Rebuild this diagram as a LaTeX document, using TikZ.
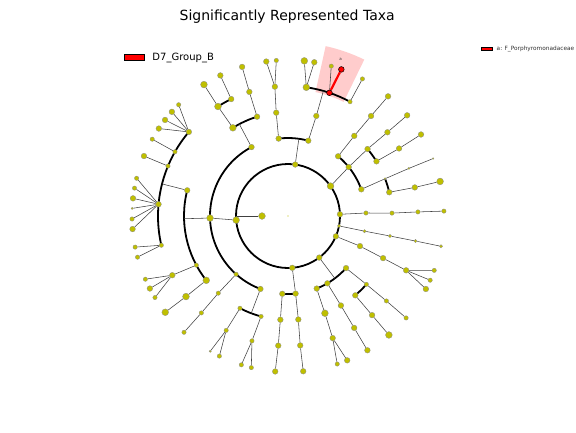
\documentclass[tikz,border=0pt]{standalone}
\usepackage{fontspec}
\setmainfont{DejaVu Sans}
\pgfdeclarelayer{bg}
\pgfsetlayers{bg,main}
\definecolor{ylw}{RGB}{191,191,0}

\begin{document}
\begin{tikzpicture}[x=1pt,y=1pt,
  tx/.style={circle, fill=ylw, draw=black!45, line width=0.3pt, inner sep=0pt, minimum size=5.7pt},
  txb/.style={tx, minimum size=6.8pt},
  txs/.style={tx, minimum size=4.4pt},
  txv/.style={tx, minimum size=3.3pt},
  txt/.style={tx, minimum size=2.2pt},
  txd/.style={circle, fill=ylw, inner sep=0pt, minimum size=1.4pt},
  txr/.style={circle, fill=red, draw=black, line width=0.5pt, inner sep=0pt, minimum size=5.7pt},
  lk/.style={black!75, line width=0.55pt},
  br/.style={black, line width=1.8pt}]
\useasboundingbox (-288,-216) rectangle (288,216);

\node[anchor=base, font=\fontsize{14}{16}\selectfont] (title) at (-0.8,196) {Significantly Represented Taxa};
\node[draw=black, fill=red, line width=0.6pt, minimum width=20pt, minimum height=6.5pt, inner sep=0pt] (leg) at (-153.8,158.7) {};
\node[anchor=base west, inner sep=0pt, font=\fontsize{10}{12}\selectfont] (legtxt) at (-135.7,156) {D7\_Group\_B};
\node[draw=black, fill=red, line width=0.4pt, minimum width=11pt, minimum height=2.7pt, inner sep=0pt] (key) at (198.2,167.4) {};
\node[anchor=west, inner sep=0pt, text=black!80, font=\fontsize{5.8}{7}\selectfont] (keytxt) at (208.5,167.3) {a: F\_Porphyromonadaceae};

\node[txd] (r) at (0,0) {};
\node[txb] (k) at (180:26) {};
\coordinate (k1) at (180:52);

\node[tx] (p1) at (82:52) {};
\node[txb] (p2) at (35.1:52) {};
\node[tx] (p3) at (1.9:52) {};
\node[txv] (p4) at (-11:52) {};
\node[tx] (p5) at (-23:52) {};
\node[tx] (p6) at (-53.1:52) {};
\node[tx] (p7) at (-85.3:52) {};
\node[txb] (p8) at (184.5:52) {};

\node[tx] (c8a) at (117.9:78) {};
\node[txb] (c8b) at (181.5:78) {};
\node[txs] (c8c) at (228.3:78) {};
\node[tx] (c8d) at (249.3:78) {};
\coordinate (c8a1) at (117.9:104);
\node[txb] (o8a) at (122:104) {};
\node[tx] (o8b) at (107.3:104) {};
\node[txb] (f8a) at (122.6:130) {};
\node[tx] (f8b) at (115.9:130) {};
\node[tx] (f8c) at (107.3:130) {};
\node[txb] (g8a) at (122.6:156) {};
\node[tx] (g8b) at (115.7:156) {};
\node[tx] (g8c) at (107.1:156) {};
\coordinate (c8b1) at (181.5:104);
\node[tx] (o8c) at (165.7:104) {};
\node[txs] (o8d) at (208.2:104) {};
\node[txb] (o8e) at (218.2:104) {};
\coordinate (o8c1) at (165.7:130);
\node[tx] (f8d) at (139.7:130) {};
\node[txs] (f8e) at (150.4:130) {};
\node[txs] (f8f) at (157.4:130) {};
\node[tx] (f8g) at (174.8:130) {};
\node[txs] (f8h) at (193:130) {};
\node[txs] (g8d1) at (134.5:156) {};
\node[tx] (g8d2) at (138.1:156) {};
\node[tx] (g8d3) at (142:156) {};
\node[tx] (g8d4) at (145.9:156) {};
\node[txs] (g8e) at (150.5:156) {};
\node[tx] (g8f) at (157.4:156) {};
\node[txs] (g8g1) at (166:156) {};
\node[txs] (g8g2) at (169.7:156) {};
\node[tx] (g8g3) at (173.5:156) {};
\node[txt] (g8g4) at (177.2:156) {};
\node[txs] (g8g5) at (181.1:156) {};
\node[tx] (g8g6) at (184.8:156) {};
\node[txs] (g8h1) at (191.5:156) {};
\node[txs] (g8h2) at (195.3:156) {};
\node[tx] (f8i) at (207.1:130) {};
\node[txs] (g8i1) at (203.9:156) {};
\node[tx] (g8i2) at (207.7:156) {};
\node[txs] (g8i3) at (211.5:156) {};
\node[txb] (f8j) at (218.3:130) {};
\node[txb] (g8j) at (218.1:156) {};
\node[txs] (o8f) at (227.9:104) {};
\node[txs] (f8k) at (228.2:130) {};
\node[txs] (g8k) at (228.2:156) {};
\coordinate (c8d1) at (249.3:104);
\node[txs] (o8g) at (242.5:104) {};
\node[txs] (f8l) at (241.6:130) {};
\node[txt] (g8l1) at (240.1:156) {};
\node[txs] (g8l2) at (243.9:156) {};
\node[txs] (o8h) at (255:104) {};
\node[txs] (f8m) at (253.9:130) {};
\node[txs] (g8m1) at (252.6:156) {};
\node[txs] (g8m2) at (256.4:156) {};

\coordinate (p1a) at (82:78);
\node[tx] (c1a) at (96.9:78) {};
\node[tx] (c1b) at (74.9:78) {};
\node[tx] (o1a) at (96.5:104) {};
\node[tx] (f1a) at (95.8:130) {};
\node[tx] (g1a1) at (98:156) {};
\node[txs] (g1a2) at (94.3:156) {};
\node[tx] (o1b) at (74.2:104) {};
\coordinate (o1b1) at (74.2:130);
\node[txb] (f1b) at (81.9:130) {};
\node[txb] (g1b1) at (84:156) {};
\node[tx] (g1b2) at (80.3:156) {};
\node[txr] (f1c) at (71.4:130) {};
\node[txr] (g1c1) at (70:156) {};
\node[txs] (g1c2) at (73.9:156) {};
\node[txs] (f1d) at (61.5:130) {};
\node[txs] (g1d) at (61.5:156) {};
\node[inner sep=0pt, text=black!80, font=\fontsize{4}{4}\selectfont] (lbla) at (71.4:165) {a};

\node[tx] (c2a) at (50:78) {};
\node[tx] (c2b) at (38.9:78) {};
\node[tx] (c2c) at (20:78) {};
\node[tx] (o2a) at (50.4:104) {};
\node[tx] (f2a) at (50.3:130) {};
\node[tx] (g2a) at (50.1:156) {};
\node[tx] (o2b) at (40.1:104) {};
\node[tx] (f2b) at (40.1:130) {};
\node[tx] (g2b) at (40.2:156) {};
\node[tx] (o2c) at (31.7:104) {};
\node[tx] (f2c) at (31.3:130) {};
\node[tx] (g2c) at (31.5:156) {};
\node[txt] (o2d) at (21:104) {};
\node[txt] (f2d) at (21.5:130) {};
\node[txt, minimum size=1.8pt] (g2d) at (21.6:156) {};
\node[tx] (o2e) at (13.2:104) {};
\node[tx] (f2e) at (12.7:130) {};
\node[txb] (g2e) at (12.8:156) {};

\node[txs] (c3) at (2.2:78) {};
\node[txs] (o3) at (1.6:104) {};
\node[txs] (f3) at (1.8:130) {};
\node[txs] (g3) at (1.8:156) {};

\node[txv] (c4) at (-11.2:78) {};
\node[txv] (o4) at (-11.1:104) {};
\node[txv] (f4) at (-11.1:130) {};
\node[txv] (g4) at (-11.2:156) {};

\node[tx] (c5) at (-22.7:78) {};
\node[tx] (o5) at (-23.9:104) {};
\node[tx] (f5) at (-24.7:130) {};
\node[txs] (g5a) at (-20.4:156) {};
\node[txs] (g5b) at (-24.3:156) {};
\node[tx] (g5c) at (-27.9:156) {};

\coordinate (p6a) at (-53.1:78);
\node[tx] (c6a) at (-41.9:78) {};
\node[tx] (c6b) at (-59.7:78) {};
\node[tx] (c6c) at (-68.4:78) {};
\node[txs] (o6a) at (-41.1:104) {};
\node[txs] (f6a) at (-40.8:130) {};
\node[txs] (g6a) at (-40.8:156) {};
\node[tx] (o6b) at (-49.7:104) {};
\node[tx] (f6b) at (-49.7:130) {};
\node[txb] (g6b) at (-49.7:156) {};
\node[tx] (o6c) at (-59.4:104) {};
\node[tx] (f6c) at (-59.4:130) {};
\node[tx] (g6c) at (-59.4:156) {};
\node[txb] (o6d) at (-69.2:104) {};
\node[tx] (f6d) at (-69.9:130) {};
\node[txs] (g6d1) at (-71.6:156) {};
\node[tx] (g6d2) at (-67.7:156) {};

\node[tx] (c7a) at (-84.4:78) {};
\node[tx] (c7b) at (-94.2:78) {};
\node[tx] (o7a) at (-84.3:104) {};
\node[tx] (f7a) at (-84.6:130) {};
\node[tx] (g7a) at (-84.4:156) {};
\node[tx] (o7b) at (-94.2:104) {};
\node[tx] (f7b) at (-94.3:130) {};
\node[tx] (g7b) at (-94.7:156) {};

\begin{pgfonlayer}{bg}
\fill[red!20] (64:127pt) arc[start angle=64, end angle=77.5, radius=127pt] -- (77.5:174pt) arc[start angle=77.5, end angle=64, radius=174pt] -- cycle;

\draw[br] (0,0) circle[radius=52pt];
\draw[br] (117.9:78pt) arc[start angle=117.9, end angle=249.3, radius=78pt];
\draw[br] (107.3:104pt) arc[start angle=107.3, end angle=122, radius=104pt];
\draw[br] (115.9:130pt) arc[start angle=115.9, end angle=122.6, radius=130pt];
\draw[br] (165.7:104pt) arc[start angle=165.7, end angle=218.2, radius=104pt];
\draw[br] (139.7:130pt) arc[start angle=139.7, end angle=193, radius=130pt];
\draw[br] (242.5:104pt) arc[start angle=242.5, end angle=255, radius=104pt];
\draw[br] (74.9:78pt) arc[start angle=74.9, end angle=96.9, radius=78pt];
\draw[br] (61.5:130pt) arc[start angle=61.5, end angle=81.9, radius=130pt];
\draw[br] (20:78pt) arc[start angle=20, end angle=50, radius=78pt];
\draw[br] (31.7:104pt) arc[start angle=31.7, end angle=40.1, radius=104pt];
\draw[br] (13.2:104pt) arc[start angle=13.2, end angle=21, radius=104pt];
\draw[br] (-68.4:78pt) arc[start angle=-68.4, end angle=-41.9, radius=78pt];
\draw[br] (-49.7:104pt) arc[start angle=-49.7, end angle=-41.1, radius=104pt];
\draw[br] (-94.2:78pt) arc[start angle=-94.2, end angle=-84.4, radius=78pt];

\draw[lk] (k) -- (k1);
\draw[lk] (p8) -- (c8b);
\draw[lk] (c8a) -- (c8a1);
\draw[lk] (o8a) -- (f8a) -- (g8a);
\draw[lk] (f8b) -- (g8b);
\draw[lk] (o8b) -- (f8c) -- (g8c);
\draw[lk] (c8b) -- (c8b1);
\draw[lk] (o8c) -- (o8c1);
\draw (f8d) edge[lk] (g8d1) edge[lk] (g8d2) edge[lk] (g8d3) edge[lk] (g8d4);
\draw[lk] (f8e) -- (g8e);
\draw[lk] (f8f) -- (g8f);
\draw (f8g) edge[lk] (g8g1) edge[lk] (g8g2) edge[lk] (g8g3) edge[lk] (g8g4) edge[lk] (g8g5) edge[lk] (g8g6);
\draw (f8h) edge[lk] (g8h1) edge[lk] (g8h2);
\draw[lk] (o8d) -- (f8i);
\draw (f8i) edge[lk] (g8i1) edge[lk] (g8i2) edge[lk] (g8i3);
\draw[lk] (o8e) -- (f8j) -- (g8j);
\draw[lk] (c8c) -- (o8f) -- (f8k) -- (g8k);
\draw[lk] (c8d) -- (c8d1);
\draw[lk] (o8g) -- (f8l);
\draw (f8l) edge[lk] (g8l1) edge[lk] (g8l2);
\draw[lk] (o8h) -- (f8m);
\draw (f8m) edge[lk] (g8m1) edge[lk] (g8m2);

\draw[lk] (p1) -- (p1a);
\draw[lk] (c1a) -- (o1a) -- (f1a);
\draw (f1a) edge[lk] (g1a1) edge[lk] (g1a2);
\draw[lk] (c1b) -- (o1b) -- (o1b1);
\draw (f1b) edge[lk] (g1b1) edge[lk] (g1b2);
\draw[lk] (f1c) -- (g1c2);
\draw[red, line width=2.2pt] (f1c) -- (g1c1);
\draw[lk] (f1d) -- (g1d);

\draw[lk] (p2) -- (c2b);
\draw[lk] (c2a) -- (o2a) -- (f2a) -- (g2a);
\draw[lk] (c2b) -- (o2b) -- (f2b) -- (g2b);
\draw[lk] (o2c) -- (f2c) -- (g2c);
\draw[lk] (c2c) -- (o2d) -- (f2d) -- (g2d);
\draw[lk] (o2e) -- (f2e) -- (g2e);

\draw[lk] (p3) -- (c3) -- (o3) -- (f3) -- (g3);
\draw[lk] (p4) -- (c4) -- (o4) -- (f4) -- (g4);
\draw[lk] (p5) -- (c5) -- (o5) -- (f5);
\draw (f5) edge[lk] (g5a) edge[lk] (g5b) edge[lk] (g5c);

\draw[lk] (p6) -- (p6a);
\draw[lk] (c6a) -- (o6a) -- (f6a) -- (g6a);
\draw[lk] (o6b) -- (f6b) -- (g6b);
\draw[lk] (c6b) -- (o6c) -- (f6c) -- (g6c);
\draw[lk] (c6c) -- (o6d) -- (f6d);
\draw (f6d) edge[lk] (g6d1) edge[lk] (g6d2);

\draw[lk] (p7) -- (c7a);
\draw[lk] (c7a) -- (o7a) -- (f7a) -- (g7a);
\draw[lk] (c7b) -- (o7b) -- (f7b) -- (g7b);
\end{pgfonlayer}
\end{tikzpicture}
\end{document}
